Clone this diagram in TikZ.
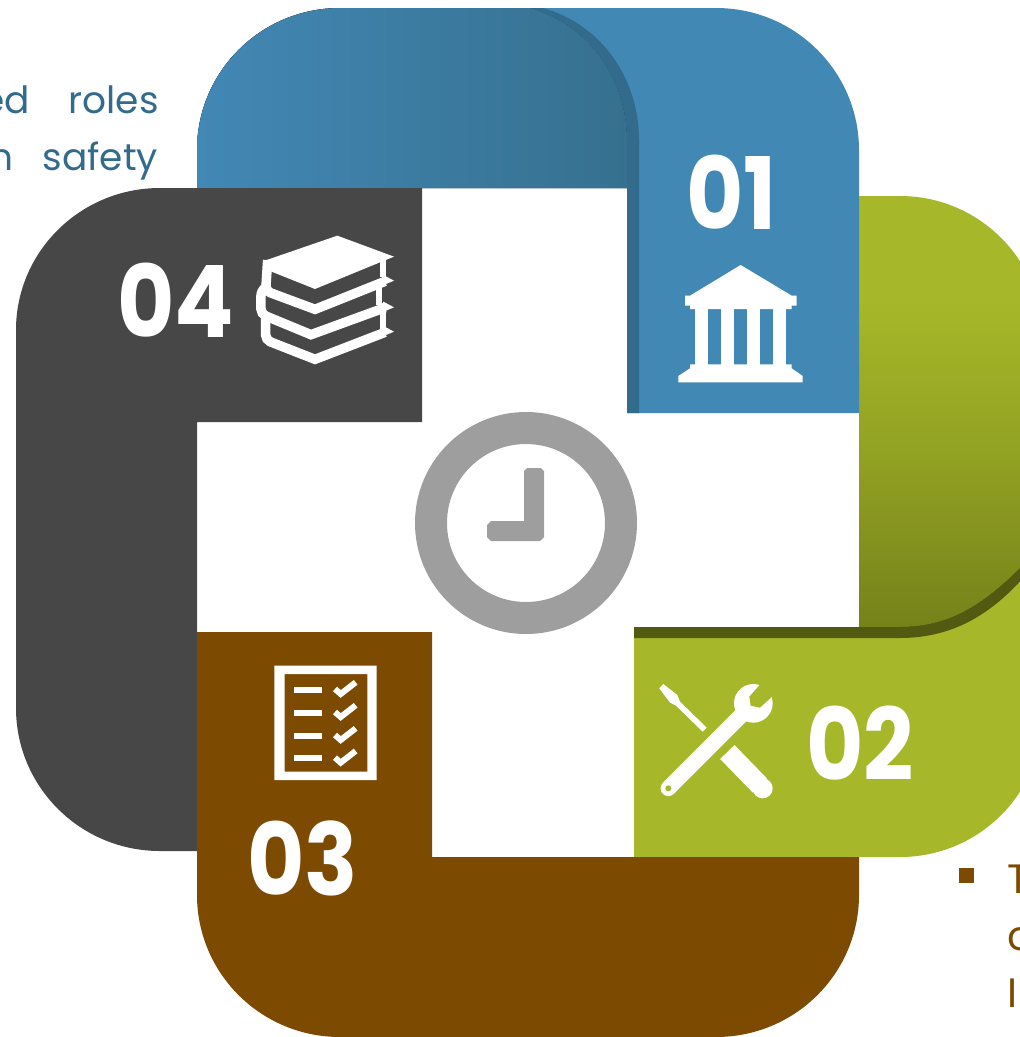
\documentclass[tikz,border=0pt]{standalone}
\usepackage{fontspec}
\setmainfont{Poppins}
\definecolor{blueband}{HTML}{4288B5}
\definecolor{bluedark}{HTML}{326B8C}
\definecolor{bluefold}{HTML}{36708F}
\definecolor{greenband}{HTML}{A6B829}
\definecolor{greendark}{HTML}{525A12}
\definecolor{greenfold}{HTML}{75821A}
\definecolor{brownband}{HTML}{7C4A00}
\definecolor{darkband}{HTML}{474747}
\definecolor{clockgrey}{HTML}{9E9E9E}
\newcommand{\numtext}[1]{\scalebox{.88}[1]{#1}}
\tikzset{
  numlabel/.style={text=white,font=\fontsize{100}{100}\selectfont\bfseries,inner sep=0pt,anchor=base west},
  sidetext/.style={font=\fontsize{37.5}{37.5}\selectfont,inner sep=0pt,anchor=base east,text=bluedark},
  bullettext/.style={font=\fontsize{41}{41}\selectfont,inner sep=0pt,anchor=base west,text=brownband},
  iconline/.style={draw=white,line join=miter,fill=none},
}
\begin{document}
\begin{tikzpicture}[x=1pt,y=-1pt]
      \useasboundingbox (0,0) rectangle (1020,1037);
      \clip (0,0) rectangle (1020,1037);
      % side text
      \node[sidetext] (textroles) at (159,113) {ed\hspace{39pt}roles};
      \node[sidetext] (textsafety) at (158,170) {n\hspace{29pt}safety};
      \node[bullettext] (textt) at (1007,893) {T};
      \node[bullettext] (textc) at (1007,950) {c};
      \node[bullettext] (textin) at (1007,1007) {In};
      \fill[brownband] (959,868) rectangle (973.5,883);
      % green band
      \fill[greenband] (859,196) -- (900,196) arc (-90:0:143) -- (1043,714) arc (0:90:143) -- (634,857) -- (634,627) -- (859,627) -- cycle;
      \fill[top color=greenband,bottom color=greenfold,middle color=greenband!55!greenfold,shading angle=0] (859,300) -- (1043,300) -- (1043,530) -- (1030,558) .. controls (985,605) and (950,627) .. (900,627) -- (859,627) -- cycle;
      \fill[greendark] (634,627) -- (900,627) .. controls (950,627) and (985,605) .. (1030,558) -- (1030,570) .. controls (995,612) and (955,638) .. (900,638) -- (634,638) -- cycle;
      % blue band
      \fill[blueband] (197,188) -- (197,150) arc (180:270:143 and 142) -- (716,8) arc (-90:0:143 and 142) -- (859,413) -- (628,413) -- (628,188) -- cycle;
      \fill[left color=blueband,right color=bluefold] (197,188) -- (197,150) arc (180:270:143 and 142) -- (530,8) .. controls (590,25) and (627,80) .. (627,140) -- (627,188) -- cycle;
      \fill[bluedark] (530,8) .. controls (590,25) and (627,80) .. (627,140) -- (627,413) -- (639,413) -- (639,140) .. controls (639,80) and (603,25) .. (543,8) -- cycle;
      % dark band
      \fill[darkband] (422,188) -- (160,188) arc (270:180:144 and 142) -- (16,708) arc (180:90:144 and 143) -- (197,851) -- (197,422) -- (422,422) -- cycle;
      % brown band
      \fill[brownband] (197,632) -- (432,632) -- (432,857) -- (859,857) -- (859,895) arc (0:90:143 and 142) -- (340,1037) arc (90:180:143 and 142) -- cycle;
      % clock
      \fill[clockgrey,even odd rule] (526,523) circle (111) (526,523) circle (79);
      \fill[clockgrey] (527,468) -- (541,468) -- (544,471) -- (544,537) -- (540,541) -- (491,541) -- (487,537) -- (487,525) -- (491,521) -- (524,521) -- (524,471) -- cycle;
      % numbers
      \node[numlabel] (num1) at (686,229) {\numtext{01}};
      \node[numlabel] (num2) at (806,780) {\numtext{02}};
      \node[numlabel] (num3) at (247,895) {\numtext{03}};
      \node[numlabel] (num4) at (117,337) {\numtext{04}};
      % temple
      \begin{scope}[shift={(500,0)},x=1/3*1pt,y=-1/3*1pt]
        \fill[white] (722,795) -- (875,887) -- (890,887) -- (890,917) -- (875,917) -- (875,927) -- (570,927) -- (570,917) -- (555,917) -- (555,887) -- (570,887) -- cycle;
        \foreach \colx in {585,663,742,820}
          \fill[white] (\colx,927) rectangle +(39,170);
        \fill[white] (570,1093) -- (875,1093) -- (875,1105) -- (908,1128) -- (908,1147) -- (535,1147) -- (535,1128) -- (570,1105) -- cycle;
      \end{scope}
      % books
      \begin{scope}[shift={(0,60)},x=1/3*1pt,y=-1/3*1pt,every path/.style={iconline,line width=9.5pt}]
        \fill[white,draw=none] (800,600) -- (1012,527) -- (1182,590) -- (1140,607) -- (945,687) -- (810,633) -- cycle;
        \draw[rounded corners=5pt] (803,600) -- (797,693) [sharp corners] -- (945,748) -- (1155,664);
        \draw[rounded corners=5pt] (800,680) -- (783,692) -- (783,762) [sharp corners] -- (933,824) -- (1155,743);
        \draw[rounded corners=5pt] (797,775) -- (797,840) [sharp corners] -- (945,898) -- (1155,817);
        \foreach \tipy in {662,742,815}
          \fill[white,draw=none] (1150,\tipy-17) -- (1182,\tipy) -- (1130,\tipy+22) -- cycle;
        \draw[line width=6pt] (1150,595) -- (1150,650);
        \draw[line width=6pt] (1137,680) -- (1137,735);
        \draw[line width=6pt] (1150,745) -- (1150,810);
      \end{scope}
      % tools
      \begin{scope}[shift={(620,560)},x=1/3*1pt,y=-1/3*1pt]
        \fill[white] (118,385) -- (130,372) -- (172,405) -- (180,425) -- (260,503) -- (248,515) -- (168,437) -- (150,428) -- cycle;
        \draw[white,line width=20pt] (322,576) -- (420,677);
        \fill[white] (428,685) circle (30);
        \draw[white,line width=15.5pt,line cap=round] (145,685) -- (380,450);
        \fill[white] (400,430) circle (58);
        \fill[greenband] (425,368) -- (388,410) -- (392,437) -- (420,443) -- (458,408) -- (475,360) -- cycle;
        \fill[greenband] (145,685) circle (9);
      \end{scope}
      % checklist
      \begin{scope}[shift={(190,620)},x=1/3*1pt,y=-1/3*1pt]
        \fill[white,even odd rule] (253,137) rectangle (560,480) (284,162) rectangle (532,455);
        \foreach \rowy in {0,69,138,206} {
          \fill[white] (312,200+\rowy) rectangle (397,218+\rowy);
          \draw[white,line width=6pt] (435,207+\rowy) -- (452,222+\rowy) -- (497,187+\rowy);
        }
      \end{scope}
    \end{tikzpicture}
\end{document}
